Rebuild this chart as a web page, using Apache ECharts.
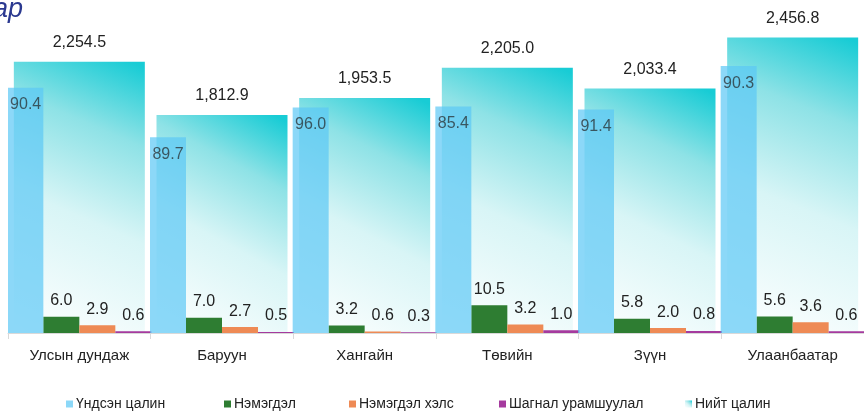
<!DOCTYPE html>
<html>
<head>
<meta charset="utf-8">
<script src="https://cdn.jsdelivr.net/npm/echarts@6/dist/echarts.min.js"></script>
<style>
  html, body { margin: 0; padding: 0; background: #fff; }
  #main { width: 864px; height: 417px; }
</style>
</head>
<body>
<div id="main"></div>
<script>
// бүсээр: нийт цалин ба бүрэлдэхүүн (%)
var categories = ['Улсын дундаж', 'Баруун', 'Хангайн', 'Төвийн', 'Зүүн', 'Улаанбаатар'];
var total = [2254.5, 1812.9, 1953.5, 2205.0, 2033.4, 2456.8];
var undsen = [90.4, 89.7, 96.0, 85.4, 91.4, 90.3];
var nemegdel = [6.0, 7.0, 3.2, 10.5, 5.8, 5.6];
var helsNemegdel = [2.9, 2.7, 0.6, 3.2, 2.0, 3.6];
var shagnal = [0.6, 0.5, 0.3, 1.0, 0.8, 0.6];
var legendNames = ['Үндсэн цалин', 'Нэмэгдэл', 'Нэмэгдэл хэлс', 'Шагнал урамшуулал', 'Нийт цалин'];

var FONT = "'Liberation Sans Narrow', 'Arial Narrow', 'Liberation Sans', sans-serif";

// хувь -> дүн (баганы өндөр нь нийт цалингийн хэсэг)
function amount(pct) {
    return pct.map(function (p, i) { return p * total[i] / 100; });
}
function pctLabel(arr) {
    return function (p) { return arr[p.dataIndex].toFixed(1); };
}

var chart = echarts.init(document.getElementById('main'));

function partSeries(name, arr, color, extra) {
    var s = {
        name: name,
        type: 'bar',
        xAxisIndex: 0,
        yAxisIndex: 0,
        barWidth: 36,
        barGap: '0%',
        z: 3,
        itemStyle: { color: color },
        label: {
            show: true,
            position: 'top',
            distance: 8,
            color: '#222',
            fontFamily: FONT,
            fontSize: 16,
            formatter: pctLabel(arr)
        },
        data: amount(arr)
    };
    return Object.assign(s, extra || {});
}

// тайлбар бүрийг тусад нь байрлуулна
var legendLeft = [61, 219, 344, 494, 680];
var legends = legendNames.map(function (n, i) {
    return {
        bottom: 1,
        left: legendLeft[i],
        itemWidth: 7,
        itemHeight: 7,
        textStyle: { fontFamily: FONT, fontSize: 14, color: '#222', padding: [0, 0, 0, -2] },
        data: [{ name: n, icon: 'rect' }]
    };
});

var option = {
    animation: false,
    backgroundColor: '#fff',
    graphic: [{
        type: 'text',
        x: 23,
        y: 9,
        style: {
            text: 'Байршлаар',
            fill: '#2B3990',
            font: 'italic 27px ' + FONT,
            textAlign: 'right',
            textVerticalAlign: 'middle'
        }
    }],
    legend: legends,
    grid: { left: 8, top: 13, width: 864, height: 320 },
    xAxis: [{
        type: 'category',
        data: categories,
        axisLine: { lineStyle: { color: '#D9D9D9' } },
        axisTick: { show: true, length: 6, lineStyle: { color: '#D9D9D9' } },
        axisLabel: { color: '#222', fontFamily: FONT, fontSize: 15, margin: 15 }
    }, {
        type: 'category',
        data: categories,
        show: false
    }],
    yAxis: [{
        type: 'value',
        min: 0,
        max: 2660,
        show: false,
        splitLine: { show: false }
    }],
    series: [
        partSeries('Үндсэн цалин', undsen, '#5BC8F5', {
            z: 4,
            itemStyle: { color: '#5BC8F5', opacity: 0.7 },
            label: {
                show: true,
                position: 'insideTop',
                distance: 9,
                color: '#222',
                fontFamily: FONT,
                fontSize: 16,
                formatter: pctLabel(undsen)
            }
        }),
        partSeries('Нэмэгдэл', nemegdel, '#2E7D32'),
        partSeries('Нэмэгдэл хэлс', helsNemegdel, '#EE8A55'),
        partSeries('Шагнал урамшуулал', shagnal, '#A53A9E'),
        {
            name: 'Нийт цалин',
            type: 'bar',
            xAxisIndex: 1,
            yAxisIndex: 0,
            barWidth: 131,
            z: 2,
            itemStyle: {
                color: new echarts.graphic.LinearGradient(0, 1, 0.9, 0, [
                    { offset: 0, color: '#FFFFFF' },
                    { offset: 0.45, color: '#D8F5F6' },
                    { offset: 0.75, color: '#8EE2E6' },
                    { offset: 1, color: '#18CCD5' }
                ])
            },
            label: {
                show: true,
                position: 'top',
                distance: 11,
                color: '#222',
                fontFamily: FONT,
                fontSize: 16,
                formatter: function (p) {
                    return total[p.dataIndex].toLocaleString('en-US', { minimumFractionDigits: 1, maximumFractionDigits: 1 });
                }
            },
            data: total
        }
    ]
};

chart.setOption(option);
</script>
</body>
</html>
